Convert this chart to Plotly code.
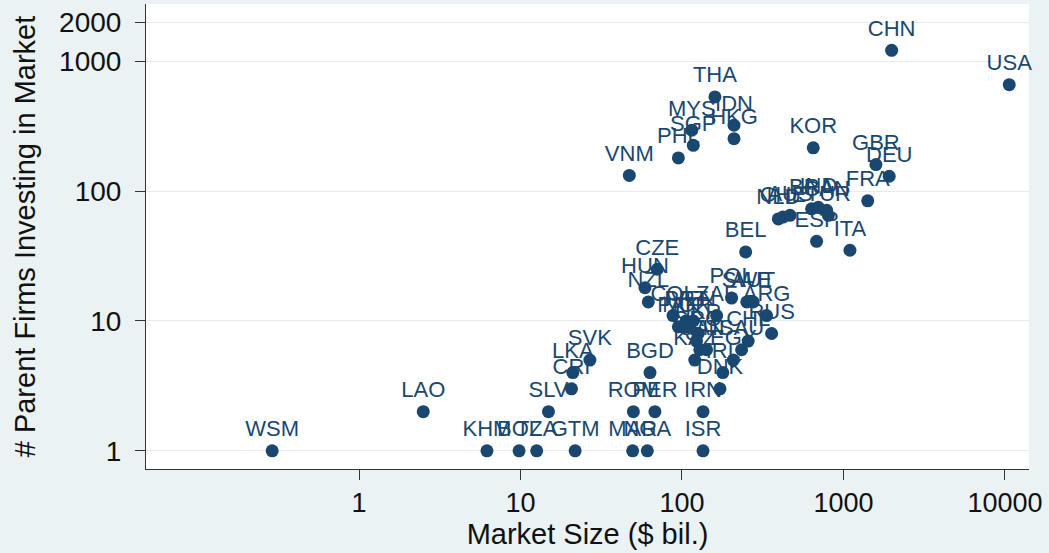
import plotly.graph_objects as go

countries = ["WSM", "LAO", "KHM", "BOL", "TZA", "GTM", "MAR", "NGA", "ISR",
             "SLV", "ROM", "PER", "IRN", "CRI", "LKA", "SVK", "BGD", "DNK", "IRL",
             "VNM", "PHL", "MYS", "SGP", "THA", "IDN", "HKG", "KOR", "GBR", "DEU",
             "FRA", "ITA", "ESP", "BEL", "CHN", "USA", "NLD", "CHE", "AUS", "BRA",
             "IND", "CAN", "TUR", "CZE", "HUN", "NZL", "POL", "SWE", "AUT", "ZAF",
             "ARG", "RUS", "CHL", "SAU", "EGY", "COL", "PRT", "PAK", "VEN", "UKR",
             "GRC", "FIN", "KAZ", "QAT", "NOR"]
market_size = [0.29, 2.5, 6.2, 9.8, 12.6, 21.8, 49.5, 61, 135,
               14.9, 50, 68, 135, 20.7, 21.1, 26.9, 63.4, 172, 179,
               47.2, 95, 115, 117.5, 160, 210, 210, 650, 1589, 1921,
               1413, 1097, 682, 248, 1988, 10632, 395, 422, 467, 635,
               699, 787, 806, 70.3, 59, 61.9, 203, 252, 276, 164,
               334, 359, 257, 234, 208, 88, 106, 95, 117.5, 126,
               123, 142, 120, 129, 107]
parent_firms = [1, 2, 1, 1, 1, 1, 1, 1, 1,
                2, 2, 2, 2, 3, 4, 5, 4, 3, 4,
                132, 180, 294, 225, 530, 321, 253, 215, 160, 130,
                84, 35, 41, 34, 1211, 659, 61, 63, 65, 73,
                75, 71, 65, 25, 18, 14, 15, 14, 14, 11,
                11, 8, 7, 6, 5, 11, 10, 9, 10, 8,
                7, 6, 5, 6, 9]

x_ticks = [1, 10, 100, 1000, 10000]
x_tick_labels = ["1", "10", "100", "1000", "10000"]
y_ticks = [1, 10, 100, 1000, 2000]
y_tick_labels = ["1", "10", "100", "1000", "2000"]

navy = "#1a476f"
font_family = "Liberation Sans, Arial, sans-serif"

fig = go.Figure(go.Scatter(
    x=market_size, y=parent_firms, mode="markers+text",
    text=countries, textposition="top center",
    textfont=dict(family=font_family, size=22, color=navy),
    marker=dict(color=navy, size=13, line=dict(width=0)),
    cliponaxis=False, hoverinfo="text",
))

fig.update_layout(
    width=1049, height=553,
    margin=dict(l=146, r=20, t=4, b=84),
    paper_bgcolor="#eaf2f3", plot_bgcolor="white",
    showlegend=False,
    font=dict(family=font_family, color="#111111"),
)
fig.update_xaxes(
    type="log", range=[-1.319, 4.149], automargin=False,
    tickvals=x_ticks, ticktext=x_tick_labels,
    ticks="outside", ticklen=10, tickcolor="#333333",
    tickfont=dict(size=27, color="#111111"),
    showgrid=False, zeroline=False,
    showline=True, linecolor="#333333", linewidth=1,
    title=dict(text="Market Size ($ bil.)", font=dict(size=29, color="#111111"), standoff=0),
)
fig.update_yaxes(
    type="log", range=[-0.14, 3.44], automargin=False,
    tickvals=y_ticks, ticktext=y_tick_labels,
    ticks="outside", ticklen=10, tickcolor="#333333",
    tickfont=dict(size=28, color="#111111"),
    ticklabelstandoff=8,
    showgrid=True, gridcolor="#e6eced", gridwidth=1,
    zeroline=False,
    showline=True, linecolor="#333333", linewidth=1,
    title=dict(text="# Parent Firms Investing in Market", font=dict(size=29, color="#111111"), standoff=14),
)

fig.write_html("out.html", config={"displayModeBar": False},
               post_script="document.body.style.margin='0px';document.body.style.overflow='hidden';")
